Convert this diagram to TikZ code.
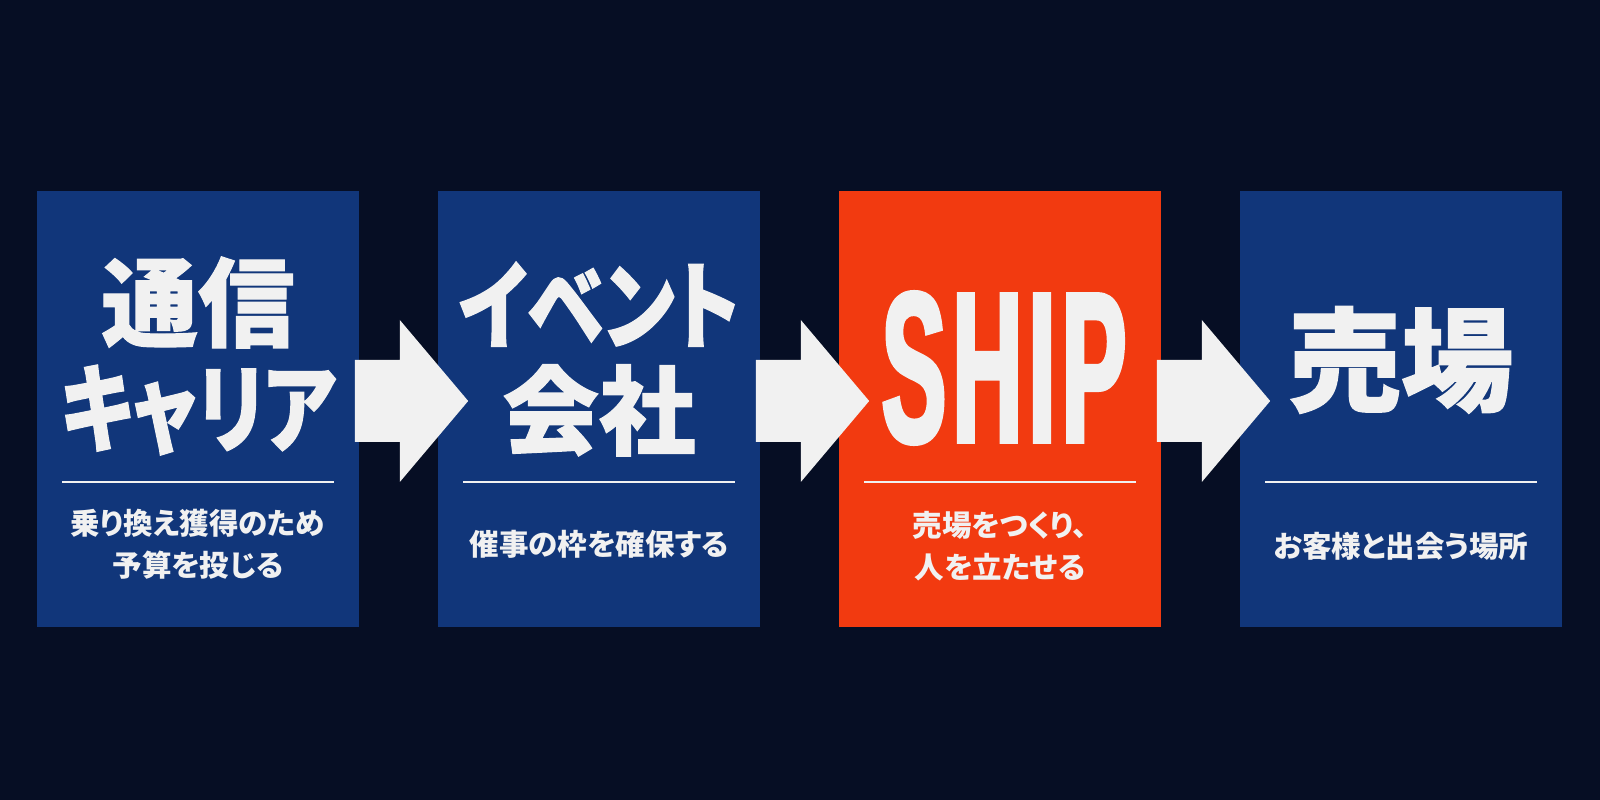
\documentclass[tikz,border=0pt]{standalone}
\usepackage{fontspec}
\setmainfont{Noto Sans CJK JP}
\newfontfamily\titlefont[RawFeature=+palt, FakeBold=1.2]{Noto Sans CJK JP}
\newfontfamily\kanafont[RawFeature=+palt, FakeStretch=0.8, FakeBold=1.2]{Noto Sans CJK JP}
\newfontfamily\notefont[RawFeature=+palt]{Noto Sans CJK JP}
\newfontfamily\shipfont[FakeStretch=0.45, FakeBold=2, LetterSpace=3]{Liberation Sans}
\usetikzlibrary{positioning, calc}

\definecolor{night}{HTML}{060E24}
\definecolor{navy}{HTML}{11367A}
\definecolor{signal}{HTML}{F23A10}
\definecolor{paper}{HTML}{F1F1F1}

% white block arrow from one box to the next
\newcommand{\flowarrow}[2]{%
    \fill[flow] ($(#1.east)+(-5,-49)$) -- ($(#1.east)+(40,-49)$) -- ($(#1.east)+(40,-89)$)
        -- ($(#2.west)+(31,-8)$)
        -- ($(#1.east)+(40,73)$) -- ($(#1.east)+(40,33)$) -- ($(#1.east)+(-5,33)$) -- cycle;
}

\begin{document}
\begin{tikzpicture}[x=0.02cm, y=-0.02cm]
\tikzstyle{stage}=[rectangle, fill=navy, minimum width=6.46cm, minimum height=8.72cm, inner sep=0]
\tikzstyle{title}=[text=paper, align=center, font=\titlefont\bfseries\fontsize{55}{60}\selectfont]
\tikzstyle{note}=[text=paper, align=center, font=\notefont\bfseries\fontsize{16.8}{24}\selectfont]
\tikzstyle{rule}=[draw=paper, line width=1.5pt]
\tikzstyle{flow}=[fill=paper]

\def \gap {401}
\def \row {409}

\fill[night] (0,0) rectangle (1600,800);

    \node (carrier) [stage] at (198,\row) {};
    \node (event) [stage] at (198+\gap,\row) {};
    \node (ship) [stage, fill=signal] at (198+2*\gap,\row) {};
    \node (venue) [stage] at (198+3*\gap,\row) {};

    \node (carrier-title) [title] at ($(carrier.center)+(0,-53)$) {通信\\{\kanafont キャリア}};
    \node (event-title) [title] at ($(event.center)+(0,-50)$) {{\kanafont イベント}\\会社};
    \node (ship-title) [title, font=\shipfont\bfseries\fontsize{122}{122}\selectfont]
        at ($(ship.center)+(4,-41)$) {SHIP};
    \node (venue-title) [title, font=\titlefont\bfseries\fontsize{64}{64}\selectfont]
        at ($(venue.center)+(0,-49)$) {売場};

\foreach \n in {carrier, event, ship, venue}
    \draw[rule] ($(\n.center)+(-136,73)$) -- ($(\n.center)+(136,73)$);

    \node (carrier-note) [note] at ($(carrier.center)+(0,135)$) {乗り換え獲得のため\\予算を投じる};
    \node (event-note) [note] at ($(event.center)+(0,135)$) {催事の枠を確保する};
    \node (ship-note) [note] at ($(ship.center)+(0,137)$) {売場をつくり、\\人を立たせる};
    \node (venue-note) [note] at ($(venue.center)+(0,137)$) {お客様と出会う場所};

\flowarrow{carrier}{event}
\flowarrow{event}{ship}
\flowarrow{ship}{venue}

\end{tikzpicture}
\end{document}
